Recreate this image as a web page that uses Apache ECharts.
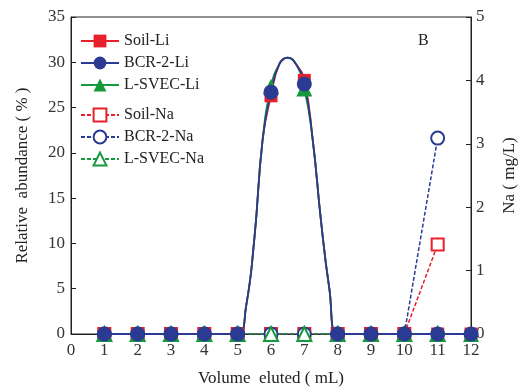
<!DOCTYPE html>
<html>
<head>
<meta charset="utf-8">
<script src="https://cdn.jsdelivr.net/npm/echarts@6/dist/echarts.min.js"></script>
<style>
  html, body { margin: 0; padding: 0; background: #fff; }
  #main { width: 520px; height: 388px; }
</style>
</head>
<body>
<div id="main"></div>
<script>
// 洗脱体积 (mL)
var volumes = [1, 2, 3, 4, 5, 6, 7, 8, 9, 10, 11, 12];

// Li 相对丰度 (%)
var soilLi = [0, 0, 0, 0, 0, 26.3, 28.0, 0, 0, 0, 0, 0];
var bcrLi  = [0, 0, 0, 0, 0, 26.7, 27.6, 0, 0, 0, 0, 0];
var svecLi = [0, 0, 0, 0, 0, 27.3, 27.1, 0, 0, 0, 0, 0];

// 拟合曲线, 只画线不画点
var curveLeftX  = [5.25, 5.5, 5.75];
var curveLeftY  = [3.0, 10.5, 21.5];
var curvePeakX  = [6.25, 6.5, 6.75];
var curvePeakY  = [29.8, 30.5, 29.8];
var curveRightX = [7.25, 7.5, 7.75];
var curveRightY = [21.5, 12.5, 5.0];

// Na 浓度 (mg/L)
var naVolumes = [1, 2, 3, 4, 5, 6, 7, 8, 9, 10, 11];
var soilNa = [0, 0, 0, 0, 0, 0, 0, 0, 0, 0, 1.41];
var bcrNa  = [0, 0, 0, 0, 0, 0, 0, 0, 0, 0, 3.09];
var svecNa = [0, 0, 0, 0, 0, 0, 0, 0, 0, 0, 0];

var serif = "Liberation Serif";

function liData(vals) {
    var out = [];
    for (var i = 0; i < volumes.length; i++) {
        var v = volumes[i];
        if (v === 6) {
            for (var j = 0; j < curveLeftX.length; j++) out.push({ value: [curveLeftX[j], curveLeftY[j]], symbol: 'none' });
        }
        out.push([v, vals[i]]);
        if (v === 6) {
            for (var k = 0; k < curvePeakX.length; k++) out.push({ value: [curvePeakX[k], curvePeakY[k]], symbol: 'none' });
        }
        if (v === 7) {
            for (var m = 0; m < curveRightX.length; m++) out.push({ value: [curveRightX[m], curveRightY[m]], symbol: 'none' });
        }
    }
    return out;
}

function pairs(xs, ys) {
    return xs.map(function (x, i) { return [x, ys[i]]; });
}

function liSeries(name, vals, color, symbol, size) {
    return {
        name: name,
        type: 'line',
        data: liData(vals),
        smooth: 0.5,
        symbol: symbol,
        symbolSize: size,
        lineStyle: { color: color, width: 1.8 },
        itemStyle: { color: color },
        z: 3
    };
}

function naSeries(name, vals, color, symbol, size) {
    return {
        name: name,
        type: 'line',
        yAxisIndex: 1,
        data: pairs(naVolumes, vals),
        symbol: symbol,
        symbolSize: size,
        lineStyle: { color: color, width: 1.5, type: [4, 2] },
        itemStyle: { color: '#fff', borderColor: color, borderWidth: 2 },
        z: 2
    };
}

var red = '#e8202a', blue = '#2b3a92', green = '#149a3c';

var chart = echarts.init(document.getElementById('main'));
var option = {
    animation: false,
    grid: {
        left: 71, right: 49, top: 17, bottom: 54,
        outerBoundsMode: 'none', containLabel: false,
        show: true, borderColor: '#222', borderWidth: 1
    },
    legend: [{
        left: 75, top: 28, orient: 'vertical', itemWidth: 38, itemHeight: 16, itemGap: 6,
        textStyle: { fontFamily: serif, fontSize: 16, color: '#222' },
        data: ['Soil-Li', 'BCR-2-Li', 'L-SVEC-Li']
    }, {
        left: 75, top: 102, orient: 'vertical', itemWidth: 38, itemHeight: 16, itemGap: 6,
        textStyle: { fontFamily: serif, fontSize: 16, color: '#222' },
        data: ['Soil-Na', 'BCR-2-Na', 'L-SVEC-Na']
    }],
    title: {
        text: 'B', left: 413, top: 28,
        textStyle: { fontFamily: serif, fontSize: 16, fontWeight: 'normal', color: '#222' }
    },
    xAxis: {
        type: 'value', min: 0, max: 12, interval: 1,
        name: 'Volume  eluted ( mL)', nameLocation: 'middle', nameGap: 36,
        nameTextStyle: { fontFamily: serif, fontSize: 17, color: '#222' },
        axisLine: { lineStyle: { color: '#222' } },
        axisTick: { inside: true, length: 5, lineStyle: { color: '#222' } },
        axisLabel: { fontFamily: serif, fontSize: 17, color: '#333', margin: 8 },
        splitLine: { show: false }
    },
    yAxis: [{
        type: 'value', min: 0, max: 35, interval: 5,
        name: 'Relative  abundance ( % )', nameLocation: 'middle', nameGap: 40,
        nameTextStyle: { fontFamily: serif, fontSize: 17, color: '#222' },
        axisLine: { show: true, lineStyle: { color: '#222' } },
        axisTick: { inside: true, length: 5, lineStyle: { color: '#222' } },
        axisLabel: { fontFamily: serif, fontSize: 17, color: '#333', margin: 6 },
        splitLine: { show: false }
    }, {
        type: 'value', min: 0, max: 5, interval: 1, position: 'right',
        name: 'Na ( mg/L)', nameLocation: 'middle', nameGap: 30, nameRotate: 90,
        nameTextStyle: { fontFamily: serif, fontSize: 17, color: '#222' },
        axisLine: { show: true, lineStyle: { color: '#222' } },
        axisTick: { show: true, inside: true, length: 5, lineStyle: { color: '#222' } },
        axisLabel: { fontFamily: serif, fontSize: 17, color: '#333', margin: 5 },
        splitLine: { show: false }
    }],
    series: [
        naSeries('Soil-Na', soilNa, red, 'rect', 12),
        naSeries('BCR-2-Na', bcrNa, blue, 'circle', 13),
        naSeries('L-SVEC-Na', svecNa, green, 'triangle', 14),
        liSeries('Soil-Li', soilLi, red, 'rect', 13),
        liSeries('L-SVEC-Li', svecLi, green, 'triangle', 16),
        liSeries('BCR-2-Li', bcrLi, blue, 'circle', 15)
    ]
};
chart.setOption(option);
</script>
</body>
</html>
